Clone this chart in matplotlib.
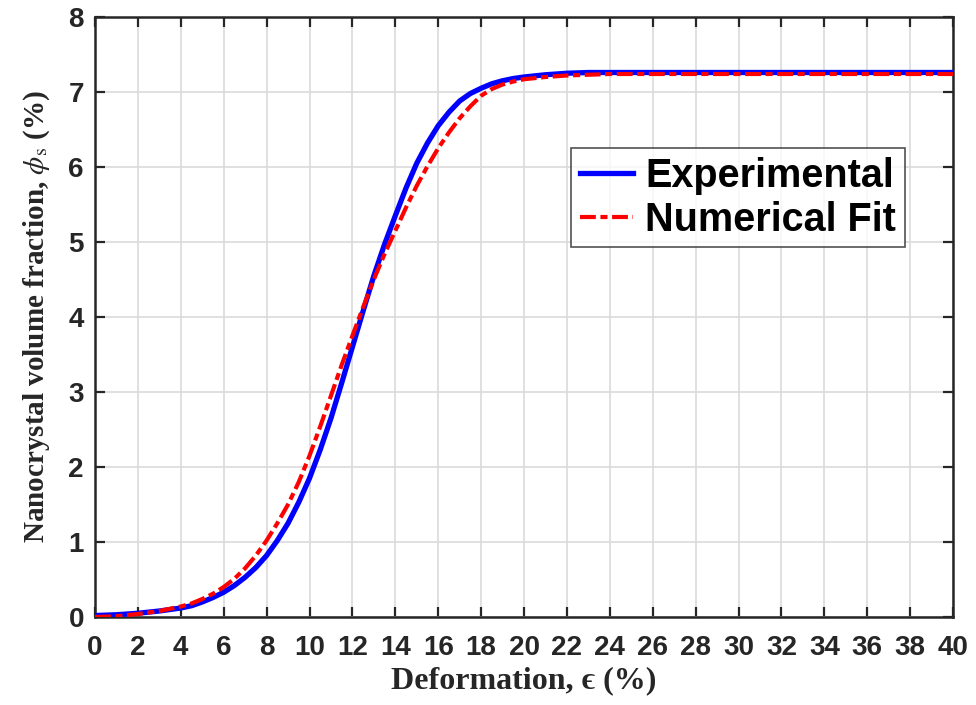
import matplotlib
matplotlib.use("Agg")
import matplotlib.pyplot as plt

plt.rcParams['mathtext.fontset'] = 'stix'

# Data
deform = [0, 1, 2, 3, 4, 4.5, 5, 5.5, 6, 6.5, 7, 7.5, 8, 8.5, 9, 9.5, 10, 10.5,
          11, 11.5, 12, 12.5, 13, 13.5, 14, 14.5, 15, 15.5, 16, 16.5, 17, 17.5,
          18, 18.5, 19, 19.5, 20, 21, 22, 23, 24, 26, 28, 30, 32, 34, 36, 38, 40]
experimental = [0.02, 0.03, 0.05, 0.08, 0.12, 0.15, 0.2, 0.26, 0.33, 0.42, 0.53,
                0.66, 0.82, 1.02, 1.25, 1.53, 1.85, 2.23, 2.65, 3.12, 3.6, 4.08,
                4.55, 4.97, 5.35, 5.72, 6.05, 6.32, 6.55, 6.73, 6.88, 6.98, 7.05,
                7.11, 7.15, 7.18, 7.2, 7.23, 7.25, 7.26, 7.26, 7.26, 7.26, 7.26,
                7.26, 7.26, 7.26, 7.26, 7.26]
numerical_fit = [0.0, 0.01, 0.04, 0.08, 0.14, 0.18, 0.24, 0.31, 0.4, 0.51, 0.65,
                 0.82, 1.02, 1.25, 1.5, 1.8, 2.15, 2.54, 2.95, 3.36, 3.75, 4.13,
                 4.5, 4.84, 5.15, 5.46, 5.75, 6.01, 6.25, 6.46, 6.65, 6.81, 6.95,
                 7.04, 7.1, 7.14, 7.17, 7.2, 7.22, 7.23, 7.24, 7.24, 7.24, 7.24,
                 7.24, 7.24, 7.24, 7.24, 7.24]
xticks = list(range(0, 41, 2))
yticks = list(range(0, 9))

fig = plt.figure(figsize=(9.76, 7.05), dpi=100)
ax = fig.add_axes([95/976, 1 - 617/705, (953 - 95)/976, (617 - 17)/705])

ax.plot(deform, experimental, color='#0000FF', lw=3.8, label='Experimental',
        solid_joinstyle='round', zorder=3)
ax.plot(deform, numerical_fit, color='#FF0000', lw=3.0,
        linestyle=(0, (3.8, 1.1, 1.7, 1.1)), label='Numerical Fit', zorder=4)

ax.set_xlim(0, 40)
ax.set_ylim(0, 8)
ax.set_xticks(xticks)
ax.set_yticks(yticks)
ax.grid(True, color='#dadada', lw=1.2)
ax.set_axisbelow(True)
ax.tick_params(direction='in', length=7, width=1.6, top=True, right=True,
               colors='#262626')
ax.tick_params(axis='x', pad=13)
ax.tick_params(axis='y', pad=8)
for lab in ax.get_xticklabels() + ax.get_yticklabels():
    lab.set_fontfamily('Liberation Sans')
    lab.set_fontweight('bold')
    lab.set_fontsize(20)
    lab.set_color('#262626')
for s in ax.spines.values():
    s.set_linewidth(1.8)
    s.set_color('#262626')

ax.set_xlabel('Deformation, \u03f5 (%)', fontfamily=['Liberation Serif', 'DejaVu Serif'],
              fontweight='bold', fontsize=23, color='#262626', labelpad=4)
ax.set_ylabel(r'Nanocrystal volume fraction, $\phi_{\rm s}$ (%)',
              fontfamily='Liberation Serif', fontweight='bold', fontsize=21,
              color='#262626', labelpad=12)

leg = ax.legend(loc='upper left', bbox_to_anchor=((571-95)/858, 1 - (148-17)/600),
                prop={'family': 'Liberation Sans', 'weight': 'bold', 'size': 28.5},
                frameon=True, fancybox=False, edgecolor='#262626',
                handlelength=1.35, handletextpad=0.3, borderpad=0.22,
                labelspacing=0.15, borderaxespad=0)
leg.get_frame().set_linewidth(1.2)

fig.savefig('out.png', dpi=100)
